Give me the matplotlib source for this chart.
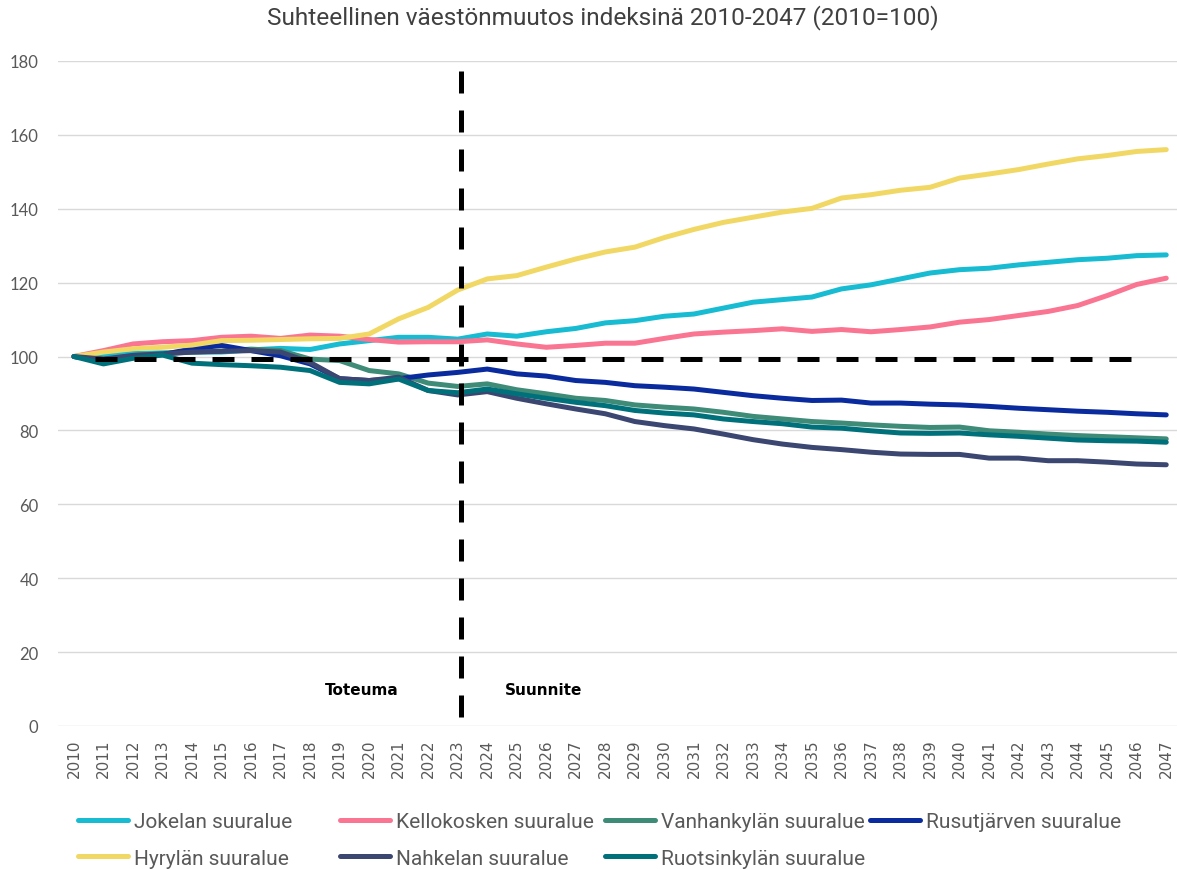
import matplotlib
matplotlib.use("Agg")
from matplotlib import pyplot as plt

years = list(range(2010, 2048))

jokela = [100, 100.5, 100.8, 101, 101.2, 101.2, 101.8, 102.2, 101.9, 103.4,
          104.3, 105.2, 105.2, 104.7, 106.1, 105.5, 106.7, 107.6, 109.1, 109.7,
          110.9, 111.5, 113.1, 114.7, 115.4, 116.1, 118.3, 119.4, 121.0, 122.6,
          123.5, 123.9, 124.8, 125.5, 126.2, 126.6, 127.3, 127.5]
kellokoski = [100, 101.6, 103.4, 104.0, 104.3, 105.2, 105.5, 104.9, 105.8, 105.5,
              104.6, 103.9, 104.0, 104.0, 104.5, 103.4, 102.5, 103.0, 103.6, 103.6,
              104.9, 106.1, 106.6, 107.0, 107.5, 106.8, 107.3, 106.7, 107.3, 108.0,
              109.3, 110.0, 111.1, 112.2, 113.8, 116.5, 119.5, 121.2]
vanhankyla = [100, 99.0, 100.3, 100.8, 101.2, 101.5, 102.0, 101.6, 99.3, 98.9,
              96.2, 95.3, 92.8, 91.9, 92.6, 91.0, 89.9, 88.7, 88.1, 86.9,
              86.3, 85.8, 84.9, 83.8, 83.1, 82.4, 82.0, 81.5, 81.1, 80.8,
              80.9, 79.9, 79.5, 79.0, 78.6, 78.3, 78.0, 77.7]
rusutjarvi = [100, 99.2, 100.0, 100.5, 102.1, 103.0, 101.6, 100.2, 98.0, 94.0,
              93.5, 94.0, 95.0, 95.7, 96.6, 95.3, 94.7, 93.5, 93.0, 92.1,
              91.7, 91.2, 90.3, 89.4, 88.7, 88.1, 88.2, 87.4, 87.4, 87.1,
              86.9, 86.5, 86.0, 85.6, 85.2, 84.9, 84.5, 84.2]
hyryla = [100, 101.2, 102.1, 102.5, 103.1, 104.3, 104.4, 104.6, 104.8, 104.9,
          106.1, 110.2, 113.3, 118.0, 121.0, 121.9, 124.2, 126.4, 128.3, 129.6,
          132.2, 134.4, 136.3, 137.7, 139.1, 140.1, 142.9, 143.8, 145.0, 145.8,
          148.3, 149.4, 150.6, 152.1, 153.5, 154.4, 155.5, 156.0]
nahkela = [100, 99.3, 100.3, 100.7, 101.2, 101.4, 101.6, 101.2, 98.4, 94.0,
           93.5, 94.4, 90.8, 89.6, 90.5, 88.7, 87.2, 85.8, 84.5, 82.4,
           81.3, 80.4, 79.0, 77.5, 76.3, 75.4, 74.8, 74.1, 73.6, 73.5,
           73.5, 72.5, 72.5, 71.8, 71.8, 71.4, 70.9, 70.7]
ruotsinkyla = [100, 98.0, 99.5, 100.4, 98.2, 97.8, 97.5, 97.1, 96.2, 93.0,
               92.6, 93.9, 90.8, 90.2, 91.2, 89.9, 88.7, 87.6, 86.7, 85.4,
               84.7, 84.2, 83.1, 82.4, 81.8, 80.9, 80.6, 79.9, 79.3, 79.2,
               79.3, 78.8, 78.4, 77.9, 77.4, 77.2, 77.1, 76.8]

series = [
    ("Jokelan suuralue", jokela, "#17BBD2"),
    ("Kellokosken suuralue", kellokoski, "#FA7591"),
    ("Vanhankylän suuralue", vanhankyla, "#3E8B78"),
    ("Rusutjärven suuralue", rusutjarvi, "#0A2B9E"),
    ("Hyrylän suuralue", hyryla, "#F1D865"),
    ("Nahkelan suuralue", nahkela, "#3B4671"),
    ("Ruotsinkylän suuralue", ruotsinkyla, "#00717A"),
]

grey = "#595959"
narrow = ["Roboto", "DejaVu Sans"]

fig = plt.figure(figsize=(11.77, 8.70), dpi=100)
ax = fig.add_axes([58 / 1177, 0.1644, 1123 / 1177, 0.7644])

lines = {}
for name, vals, col in series:
    ln, = ax.plot(years, vals, color=col, lw=3.6, solid_capstyle="round", label=name)
    lines[name] = ln

# apuviivat (100-taso ja toteuma/suunnite-raja)
ax.plot([2010.7, 2046.3], [99.3, 99.3], color="black", lw=3.6, dashes=(4.4, 3.4), zorder=5)
ax.plot([2023.1, 2023.1], [2.5, 179], color="black", lw=3.6, dashes=(4.4, 3.4), zorder=5)

ax.text(2018.5, 10, "Toteuma", fontsize=11, fontweight="bold", ha="left", va="center")
ax.text(2024.6, 10, "Suunnite", fontsize=11, fontweight="bold", ha="left", va="center")

ax.set_xlim(2009.46, 2047.5)
ax.set_ylim(0, 180)
ax.set_xticks(years)
ax.set_xticklabels([str(y) for y in years], rotation=90, fontsize=11, color=grey)
ax.set_yticks(range(0, 181, 20))
ax.set_yticklabels([str(v) for v in range(0, 181, 20)], fontsize=12, color=grey, family="Lato")
ax.tick_params(length=0)
ax.tick_params(axis="x", pad=9)
ax.tick_params(axis="y", pad=14)
ax.yaxis.grid(True, color="#D9D9D9", lw=1)
ax.set_axisbelow(True)
for s in ax.spines.values():
    s.set_visible(False)

fig.text(0.512, 1 - 18 / 870, "Suhteellinen väestönmuutos indeksinä 2010-2047 (2010=100)",
         ha="center", va="center", fontsize=17.6, color="#404040", family=narrow)

# selite sarakkeittain kuten alkuperäisessä
cols = [
    (78, ["Jokelan suuralue", "Hyrylän suuralue"]),
    (340, ["Kellokosken suuralue", "Nahkelan suuralue"]),
    (605, ["Vanhankylän suuralue", "Ruotsinkylän suuralue"]),
    (870, ["Rusutjärven suuralue"]),
]
for x0, names in cols:
    hs = [lines[n] for n in names]
    fig.legend(hs, names, loc="upper left", bbox_to_anchor=(x0 / 1177, 1 - 813 / 870),
               frameon=False, borderpad=0, borderaxespad=0, handlelength=2.4,
               handletextpad=0.3, labelspacing=0.85,
               prop={"family": narrow, "size": 15}, labelcolor=grey)

fig.savefig("out.png", dpi=100)
